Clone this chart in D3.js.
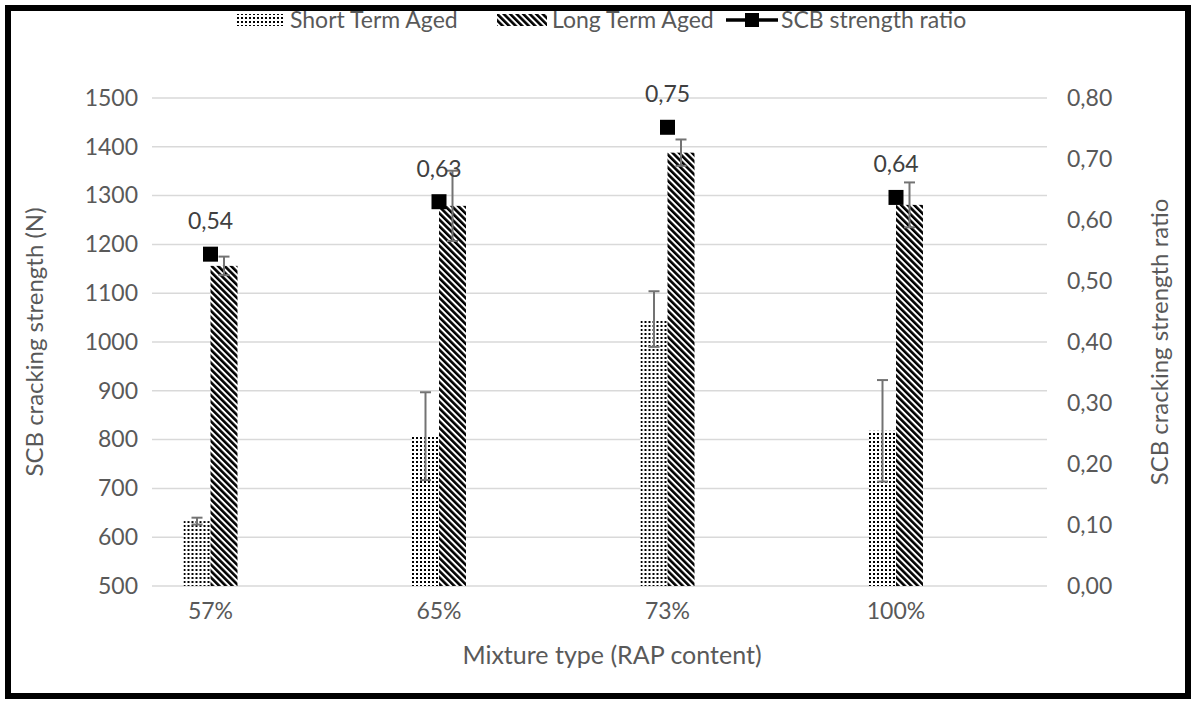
<!DOCTYPE html>
<html>
<head>
<meta charset="utf-8">
<script src="https://cdn.jsdelivr.net/npm/d3@7"></script>
<style>
  html, body { margin: 0; padding: 0; background: #fff; }
  svg { display: block; font-family: Lato, "Open Sans", sans-serif; }
</style>
</head>
<body>
<svg id="chart" width="1194" height="701"></svg>
<script>
// RAP content of each mixture
const categories = ["57%", "65%", "73%", "100%"];
// SCB cracking strength (N), mean and standard deviation
const shortTermAged = [633, 807, 1047, 818];
const shortTermErr = [7, 90, 57, 104];
const longTermAged = [1156, 1279, 1388, 1281];
const longTermErr = [19, 72, 27, 46];
// strength ratio, short term / long term
const strengthRatio = [0.544, 0.630, 0.752, 0.637];
// axis ticks
const leftTicks = [500, 600, 700, 800, 900, 1000, 1100, 1200, 1300, 1400, 1500];
const rightTicks = [0, 0.1, 0.2, 0.3, 0.4, 0.5, 0.6, 0.7, 0.8];

const svg = d3.select("#chart");
const textColor = "#595959";
const fontSize = "23px";
const plotLeft = 152, plotRight = 1047, plotTop = 98, plotBottom = 586;

// hatch patterns
const defs = svg.append("defs");
const dots = defs.append("pattern")
  .attr("id", "dots").attr("patternUnits", "userSpaceOnUse")
  .attr("width", 4).attr("height", 4);
dots.append("rect").attr("width", 4).attr("height", 4).attr("fill", "#fff");
dots.append("rect").attr("x", 1).attr("y", 1).attr("width", 2).attr("height", 2).attr("fill", "#000");

const stripes = defs.append("pattern")
  .attr("id", "stripes").attr("patternUnits", "userSpaceOnUse")
  .attr("width", 4.6).attr("height", 10)
  .attr("patternTransform", "rotate(-45)");
stripes.append("rect").attr("width", 4.6).attr("height", 10).attr("fill", "#fff");
stripes.append("rect").attr("width", 2.6).attr("height", 10).attr("fill", "#000");

// scales
const x = d3.scaleBand().domain(categories).range([96.25, 1010.25]).padding(0);
const x1 = d3.scaleBand().domain(["short", "long"]).range([-27, 27]).padding(0);
const yL = d3.scaleLinear().domain([500, 1500]).range([plotBottom, plotTop]);
const yR = d3.scaleLinear().domain([0, 0.8]).range([plotBottom, plotTop]);
const cx = c => x(c) + x.bandwidth() / 2;

// gridlines
svg.append("g").selectAll("line").data(leftTicks).join("line")
  .attr("x1", plotLeft).attr("x2", plotRight)
  .attr("y1", d => yL(d)).attr("y2", d => yL(d))
  .attr("stroke", "#d9d9d9").attr("stroke-width", 1.5);

// left axis
const leftAxis = svg.append("g")
  .attr("transform", `translate(${plotLeft - 14},0)`)
  .call(d3.axisLeft(yL).tickValues(leftTicks).tickSize(0).tickPadding(0).tickFormat(d3.format("d")));
leftAxis.select(".domain").remove();
leftAxis.selectAll("text").attr("fill", textColor).style("font-size", fontSize)
  .style("font-family", "Lato, sans-serif");

// right axis
const fmtComma = v => d3.format(".2f")(v).replace(".", ",");
const rightAxis = svg.append("g")
  .attr("transform", `translate(${plotRight + 20},0)`)
  .call(d3.axisRight(yR).tickValues(rightTicks).tickSize(0).tickPadding(0).tickFormat(fmtComma));
rightAxis.select(".domain").remove();
rightAxis.selectAll("text").attr("fill", textColor).style("font-size", fontSize)
  .style("font-family", "Lato, sans-serif");

// category axis
const bottomAxis = svg.append("g")
  .attr("transform", `translate(0,${plotBottom + 17})`)
  .call(d3.axisBottom(x).tickSize(0).tickPadding(0));
bottomAxis.select(".domain").remove();
bottomAxis.selectAll("text").attr("fill", textColor).style("font-size", fontSize)
  .style("font-family", "Lato, sans-serif");

// bars
const groups = svg.append("g").selectAll("g").data(categories).join("g")
  .attr("transform", d => `translate(${cx(d)},0)`);

groups.append("rect")
  .attr("x", x1("short")).attr("width", x1.bandwidth())
  .attr("y", (d, i) => yL(shortTermAged[i]))
  .attr("height", (d, i) => yL(500) - yL(shortTermAged[i]))
  .attr("fill", "url(#dots)");
groups.append("rect")
  .attr("x", x1("long")).attr("width", x1.bandwidth())
  .attr("y", (d, i) => yL(longTermAged[i]))
  .attr("height", (d, i) => yL(500) - yL(longTermAged[i]))
  .attr("fill", "url(#stripes)");

// error bars
function errorBar(sel, key, vals, errs) {
  const xc = x1(key) + x1.bandwidth() / 2;
  const g = sel.append("g").attr("stroke", "#737373").attr("stroke-width", 2);
  g.append("line").attr("x1", xc).attr("x2", xc)
    .attr("y1", (d, i) => yL(vals[i] + errs[i])).attr("y2", (d, i) => yL(vals[i] - errs[i]));
  g.append("line").attr("x1", xc - 5.5).attr("x2", xc + 5.5)
    .attr("y1", (d, i) => yL(vals[i] + errs[i])).attr("y2", (d, i) => yL(vals[i] + errs[i]));
  g.append("line").attr("x1", xc - 5.5).attr("x2", xc + 5.5)
    .attr("y1", (d, i) => yL(vals[i] - errs[i])).attr("y2", (d, i) => yL(vals[i] - errs[i]));
}
errorBar(groups, "short", shortTermAged, shortTermErr);
errorBar(groups, "long", longTermAged, longTermErr);

// ratio markers and labels
const ms = 15;
groups.append("rect")
  .attr("x", -ms / 2).attr("width", ms).attr("height", ms)
  .attr("y", (d, i) => yR(strengthRatio[i]) - ms / 2)
  .attr("fill", "#000");
groups.append("text")
  .attr("y", (d, i) => yR(strengthRatio[i]) - 25)
  .attr("text-anchor", "middle").attr("fill", "#404040")
  .style("font-size", fontSize)
  .text((d, i) => fmtComma(strengthRatio[i]));

// axis titles
svg.append("text")
  .attr("transform", `translate(43,342) rotate(-90)`)
  .attr("text-anchor", "middle").attr("fill", textColor).style("font-size", "24px")
  .text("SCB cracking strength (N)");
svg.append("text")
  .attr("transform", `translate(1168,342) rotate(-90)`)
  .attr("text-anchor", "middle").attr("fill", textColor).style("font-size", "24px")
  .text("SCB cracking strength ratio");
svg.append("text")
  .attr("x", 612).attr("y", 664)
  .attr("text-anchor", "middle").attr("fill", textColor).style("font-size", "25px")
  .text("Mixture type (RAP content)");

// legend
const legend = svg.append("g");
legend.append("rect").attr("x", 236).attr("y", 14).attr("width", 48).attr("height", 12).attr("fill", "url(#dots)");
legend.append("text").attr("x", 290).attr("y", 28).attr("fill", textColor).style("font-size", fontSize).text("Short Term Aged");
legend.append("rect").attr("x", 497).attr("y", 14).attr("width", 50).attr("height", 12).attr("fill", "url(#stripes)");
legend.append("text").attr("x", 552).attr("y", 28).attr("fill", textColor).style("font-size", fontSize).text("Long Term Aged");
legend.append("line").attr("x1", 726).attr("x2", 778).attr("y1", 20).attr("y2", 20)
  .attr("stroke", "#000").attr("stroke-width", 3.5);
legend.append("rect").attr("x", 745).attr("y", 13).attr("width", 14).attr("height", 14).attr("fill", "#000");
legend.append("text").attr("x", 781).attr("y", 28).attr("fill", textColor).style("font-size", fontSize).text("SCB strength ratio");

// outer frame
svg.append("rect").attr("x", 8).attr("y", 8).attr("width", 1180).attr("height", 688)
  .attr("fill", "none").attr("stroke", "#000").attr("stroke-width", 6);
</script>
</body>
</html>
